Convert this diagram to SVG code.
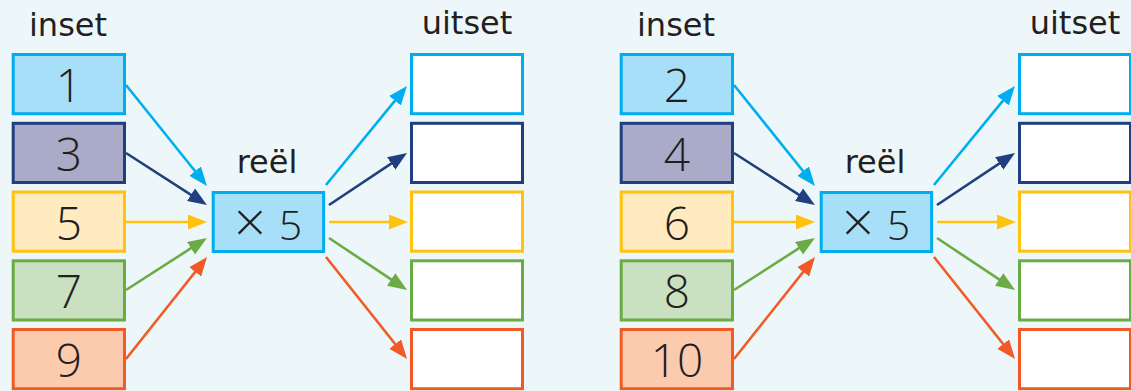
<svg xmlns="http://www.w3.org/2000/svg" width="1131" height="391" viewBox="0 0 1131 391">
<style>
.bg{fill:#EDF7F9}
rect.b{stroke-width:3}
.c1{fill:#A8DFF8;stroke:#00AEEF}
.c2{fill:#A9ABC9;stroke:#213F7E}
.c3{fill:#FFEBBF;stroke:#FFC20E}
.c4{fill:#C9E1C1;stroke:#6AAB45}
.c5{fill:#FCCAAD;stroke:#F15A24}
.o1{fill:#FFFFFF;stroke:#00AEEF}
.o2{fill:#FFFFFF;stroke:#213F7E}
.o3{fill:#FFFFFF;stroke:#FFC20E}
.o4{fill:#FFFFFF;stroke:#6AAB45}
.o5{fill:#FFFFFF;stroke:#F15A24}
text{font-family:"DejaVu Sans","Noto Sans",sans-serif;fill:#231F20;text-anchor:middle}
.num{font-family:"Open Sans","DejaVu Sans",sans-serif;font-weight:350;font-size:46px}
.lbl{font-size:32px}
.ctr{font-family:"Open Sans","DejaVu Sans",sans-serif;font-weight:350;font-size:41px}
.times{font-family:"Open Sans","DejaVu Sans",sans-serif;font-weight:300;font-size:56px}
path.a{fill:none;stroke-width:2.6}
.a1{stroke:#00AEEF}
.a2{stroke:#213F7E}
.a3{stroke:#FFC20E}
.a4{stroke:#6AAB45}
.a5{stroke:#F15A24}
</style>
<defs>
<marker id="m1" markerUnits="userSpaceOnUse" markerWidth="19" markerHeight="15" refX="13" refY="7.5" orient="auto" viewBox="0 0 19 15"><path d="M0,0 L19,7.5 L0,15 z" fill="#00AEEF"/></marker>
<marker id="m2" markerUnits="userSpaceOnUse" markerWidth="19" markerHeight="15" refX="13" refY="7.5" orient="auto" viewBox="0 0 19 15"><path d="M0,0 L19,7.5 L0,15 z" fill="#213F7E"/></marker>
<marker id="m3" markerUnits="userSpaceOnUse" markerWidth="19" markerHeight="15" refX="13" refY="7.5" orient="auto" viewBox="0 0 19 15"><path d="M0,0 L19,7.5 L0,15 z" fill="#FFC20E"/></marker>
<marker id="m4" markerUnits="userSpaceOnUse" markerWidth="19" markerHeight="15" refX="13" refY="7.5" orient="auto" viewBox="0 0 19 15"><path d="M0,0 L19,7.5 L0,15 z" fill="#6AAB45"/></marker>
<marker id="m5" markerUnits="userSpaceOnUse" markerWidth="19" markerHeight="15" refX="13" refY="7.5" orient="auto" viewBox="0 0 19 15"><path d="M0,0 L19,7.5 L0,15 z" fill="#F15A24"/></marker>
</defs>
<rect class="bg" x="0" y="0" width="1131" height="391"/>

<g id="left-panel">
  <text class="lbl" x="68" y="36">inset</text>
  <text class="lbl" x="467" y="34">uitset</text>
  <text class="lbl" x="267" y="173">reël</text>
  <g id="L-in-1"><rect class="b c1" x="13.2" y="54.5" width="111.3" height="59.2"/><text class="num" x="69" y="102">1</text></g>
  <g id="L-in-2"><rect class="b c2" x="13.2" y="123.3" width="111.3" height="59.2"/><text class="num" x="69" y="171">3</text></g>
  <g id="L-in-3"><rect class="b c3" x="13.2" y="192" width="111.3" height="59.2"/><text class="num" x="69" y="240">5</text></g>
  <g id="L-in-4"><rect class="b c4" x="13.2" y="260.8" width="111.3" height="59.2"/><text class="num" x="69" y="308">7</text></g>
  <g id="L-in-5"><rect class="b c5" x="13.2" y="329.5" width="111.3" height="59.2"/><text class="num" x="69" y="377">9</text></g>
  <g id="L-center"><rect class="b c1" x="213.2" y="192.5" width="110.4" height="59"/><text class="times" x="250" y="242">×</text><text class="ctr" x="290.5" y="240">5</text></g>
  <g id="L-out-1"><rect class="b o1" x="411.5" y="54.5" width="111" height="59.2"/></g>
  <g id="L-out-2"><rect class="b o2" x="411.5" y="123.3" width="111" height="59.2"/></g>
  <g id="L-out-3"><rect class="b o3" x="411.5" y="192" width="111" height="59.2"/></g>
  <g id="L-out-4"><rect class="b o4" x="411.5" y="260.8" width="111" height="59.2"/></g>
  <g id="L-out-5"><rect class="b o5" x="411.5" y="329.5" width="111" height="59.2"/></g>
</g>

<g id="right-panel">
  <text class="lbl" x="676" y="36">inset</text>
  <text class="lbl" x="1075" y="34">uitset</text>
  <text class="lbl" x="875" y="173">reël</text>
  <g id="R-in-1"><rect class="b c1" x="621.2" y="54.5" width="111.3" height="59.2"/><text class="num" x="677" y="102">2</text></g>
  <g id="R-in-2"><rect class="b c2" x="621.2" y="123.3" width="111.3" height="59.2"/><text class="num" x="677" y="171">4</text></g>
  <g id="R-in-3"><rect class="b c3" x="621.2" y="192" width="111.3" height="59.2"/><text class="num" x="677" y="240">6</text></g>
  <g id="R-in-4"><rect class="b c4" x="621.2" y="260.8" width="111.3" height="59.2"/><text class="num" x="677" y="308">8</text></g>
  <g id="R-in-5"><rect class="b c5" x="621.2" y="329.5" width="111.3" height="59.2"/><text class="num" x="677" y="377">10</text></g>
  <g id="R-center"><rect class="b c1" x="821.2" y="192.5" width="110.4" height="59"/><text class="times" x="858" y="242">×</text><text class="ctr" x="898.5" y="240">5</text></g>
  <g id="R-out-1"><rect class="b o1" x="1019.5" y="54.5" width="111" height="59.2"/></g>
  <g id="R-out-2"><rect class="b o2" x="1019.5" y="123.3" width="111" height="59.2"/></g>
  <g id="R-out-3"><rect class="b o3" x="1019.5" y="192" width="111" height="59.2"/></g>
  <g id="R-out-4"><rect class="b o4" x="1019.5" y="260.8" width="111" height="59.2"/></g>
  <g id="R-out-5"><rect class="b o5" x="1019.5" y="329.5" width="111" height="59.2"/></g>
</g>

<g id="connectors">
  <path class="a a1" d="M126,85 L203.2,181.3" marker-end="url(#m1)"/>
  <path class="a a2" d="M126,153 L201.9,201.8" marker-end="url(#m2)"/>
  <path class="a a3" d="M126,222 L201,222" marker-end="url(#m3)"/>
  <path class="a a4" d="M126,290 L201.9,241.2" marker-end="url(#m4)"/>
  <path class="a a5" d="M126,359 L203.3,261.7" marker-end="url(#m5)"/>
  <path class="a a1" d="M326,185 L403.2,90.6" marker-end="url(#m1)"/>
  <path class="a a2" d="M329,205 L402,156.3" marker-end="url(#m2)"/>
  <path class="a a3" d="M329,222 L402,222" marker-end="url(#m3)"/>
  <path class="a a4" d="M329,238 L402,286.7" marker-end="url(#m4)"/>
  <path class="a a5" d="M326,257 L403.3,354.3" marker-end="url(#m5)"/>

  <path class="a a1" d="M734,85 L811.2,181.3" marker-end="url(#m1)"/>
  <path class="a a2" d="M734,153 L809.9,201.8" marker-end="url(#m2)"/>
  <path class="a a3" d="M734,222 L809,222" marker-end="url(#m3)"/>
  <path class="a a4" d="M734,290 L809.9,241.2" marker-end="url(#m4)"/>
  <path class="a a5" d="M734,359 L811.3,261.7" marker-end="url(#m5)"/>
  <path class="a a1" d="M934,185 L1011.2,90.6" marker-end="url(#m1)"/>
  <path class="a a2" d="M937,205 L1010,156.3" marker-end="url(#m2)"/>
  <path class="a a3" d="M937,222 L1010,222" marker-end="url(#m3)"/>
  <path class="a a4" d="M937,238 L1010,286.7" marker-end="url(#m4)"/>
  <path class="a a5" d="M934,257 L1011.3,354.3" marker-end="url(#m5)"/>
</g>
</svg>
